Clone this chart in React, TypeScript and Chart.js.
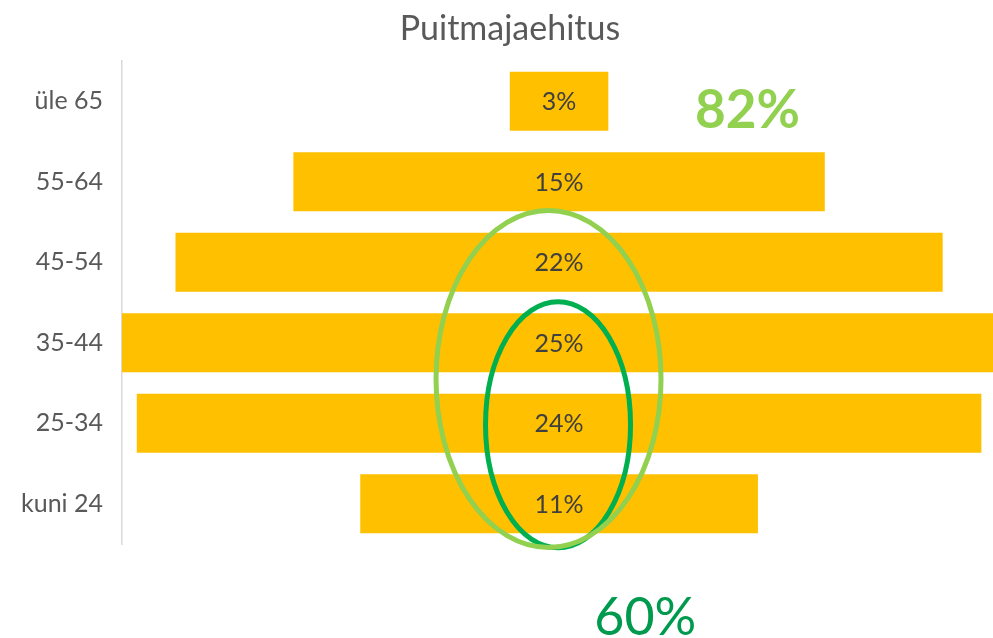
import React, { useEffect, useRef } from "react";
import { Chart, registerables } from "chart.js";

Chart.register(...registerables);

const categories = ["üle 65", "55-64", "45-54", "35-44", "25-34", "kuni 24"];
const shares = [2.8, 15.1, 21.8, 24.9, 24.0, 11.3];
const titleText = "Puitmajaehitus";
const outerGroupLabel = "82%";
const innerGroupLabel = "60%";

const FONT = "Lato, 'Open Sans', sans-serif";

const overlayPlugin = {
  id: "overlay",
  afterDatasetsDraw(chart: any) {
    const ctx = chart.ctx;
    const meta = chart.getDatasetMeta(0);
    ctx.save();
    ctx.font = `25px ${FONT}`;
    ctx.fillStyle = "#404040";
    ctx.textAlign = "center";
    ctx.textBaseline = "middle";
    meta.data.forEach((el: any, i: number) => {
      const cx = (el.x + el.base) / 2;
      ctx.fillText(Math.round(shares[i]) + "%", cx, el.y + 1);
    });
    ctx.restore();
  },
  afterDraw(chart: any) {
    const ctx = chart.ctx;
    const xs = chart.scales.x;
    const ys = chart.scales.y;
    ctx.save();
    // outer ellipse (45-54 .. kuni 24)
    const oCx = xs.getPixelForValue(-0.3);
    const oCy = (ys.getPixelForValue(2) + ys.getPixelForValue(5)) / 2 - 4;
    // inner ellipse (35-44 .. kuni 24)
    const iCx = xs.getPixelForValue(-0.03);
    const iCy = (ys.getPixelForValue(3) + ys.getPixelForValue(5)) / 2 + 1.5;
    ctx.lineWidth = 5;
    ctx.strokeStyle = "#00B050";
    ctx.beginPath();
    ctx.ellipse(iCx, iCy, 72.5, 123, 0, 0, Math.PI * 2);
    ctx.stroke();
    ctx.strokeStyle = "#92D050";
    ctx.beginPath();
    ctx.ellipse(oCx, oCy, 112.5, 168.5, 0, 0, Math.PI * 2);
    ctx.stroke();

    ctx.textAlign = "center";
    ctx.textBaseline = "alphabetic";
    ctx.font = `bold 53px ${FONT}`;
    ctx.fillStyle = "#92D050";
    ctx.fillText(outerGroupLabel, xs.getPixelForValue(5.35), ys.getPixelForValue(0) + 27);
    ctx.font = `52px ${FONT}`;
    ctx.fillStyle = "#009A4E";
    ctx.fillText(innerGroupLabel, xs.getPixelForValue(2.45), ys.getPixelForValue(5) + 131);
    ctx.restore();
  },
};

export default function App() {
  const ref = useRef<HTMLCanvasElement | null>(null);
  useEffect(() => {
    if (!ref.current) return;
    const chart = new Chart(ref.current, {
      type: "bar",
      data: {
        labels: categories,
        datasets: [
          {
            data: shares.map((v) => [-v / 2, v / 2]) as any,
            backgroundColor: "#FFC000",
            borderWidth: 0,
            barPercentage: 0.73,
            categoryPercentage: 1,
          },
        ],
      },
      options: {
        animation: false,
        responsive: false,
        indexAxis: "y",
        layout: { padding: { left: 0, right: -27, top: 0, bottom: 94 } },
        plugins: {
          legend: { display: false },
          tooltip: { enabled: false },
          title: {
            display: true,
            text: titleText,
            color: "#595959",
            font: { family: FONT, size: 34, weight: "normal" as any },
            padding: { top: 8.6, bottom: 11.6 },
          },
        },
        scales: {
          x: {
            display: false,
            min: -12.42,
            max: 12.33,
          },
          y: {
            grid: { display: false, drawTicks: false },
            border: { display: true, color: "#d9d9d9", width: 1.5 },
            ticks: {
              color: "#595959",
              font: { family: FONT, size: 25 },
              padding: 19,
            },
            afterFit(scale: any) {
              scale.width = 122;
            },
          },
        },
      },
      plugins: [overlayPlugin],
    });
    return () => chart.destroy();
  }, []);
  return (
    <div style={{ position: "absolute", left: 0, top: 0, width: 993, height: 638, background: "#fff" }}>
      <canvas ref={ref} width={993} height={638} />
    </div>
  );
}
